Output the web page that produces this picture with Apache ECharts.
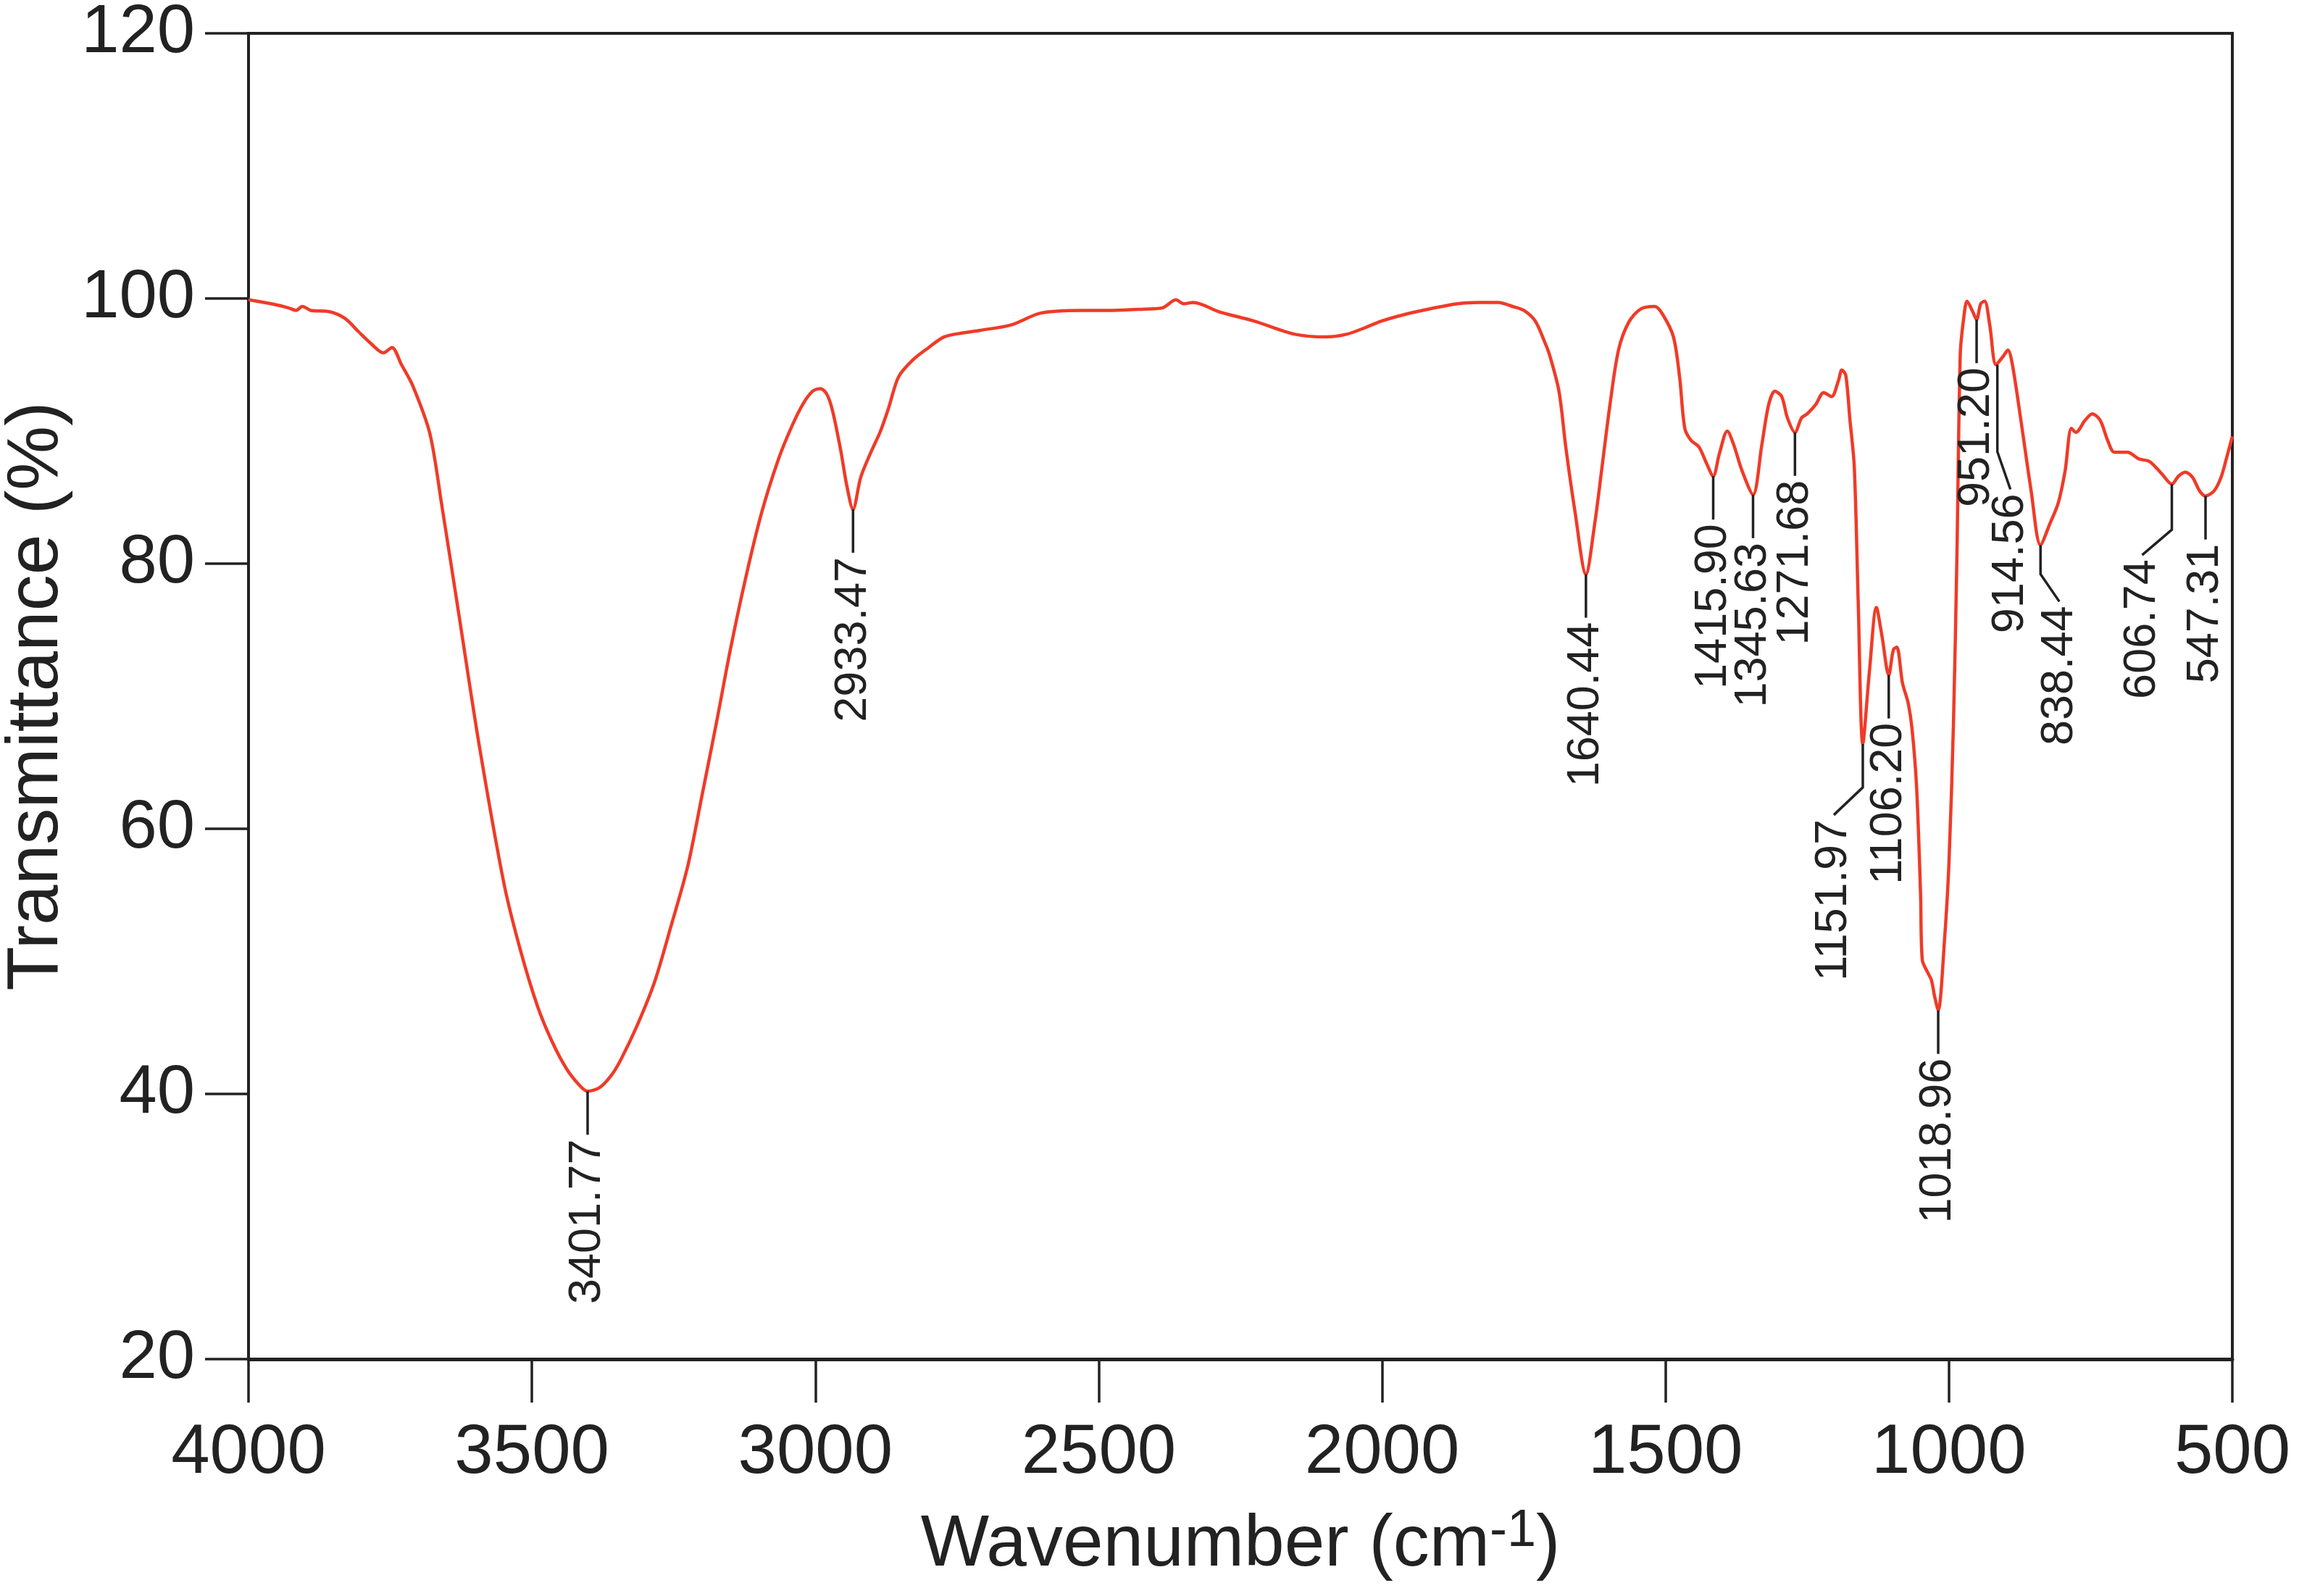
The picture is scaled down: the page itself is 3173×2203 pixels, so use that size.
<!DOCTYPE html>
<html>
<head>
<meta charset="utf-8">
<script src="https://cdn.jsdelivr.net/npm/echarts@6/dist/echarts.min.js"></script>
<style>
  html, body { margin: 0; padding: 0; background: #fff; }
  #main { width: 3173px; height: 2203px; }
</style>
</head>
<body>
<div id="main"></div>
<script>
// FTIR spectrum
var wavenumber = [4000, 3960, 3930, 3916, 3905, 3890, 3857, 3830, 3806, 3784, 3762, 3747, 3730, 3710, 3680,
    3659, 3629, 3593, 3549, 3520, 3490, 3465, 3439, 3415, 3401.77, 3380, 3360, 3343, 3315, 3284, 3255, 3225,
    3200, 3174, 3150, 3123, 3095, 3064, 3040, 3021, 3005, 2991, 2980, 2970, 2955, 2945, 2933.47, 2920, 2903,
    2885, 2871, 2853, 2827, 2800, 2773, 2740, 2709, 2655, 2602, 2530, 2476, 2420, 2387, 2364, 2350, 2333,
    2288, 2226, 2154, 2099, 2063, 2030, 2001, 1960, 1929, 1867, 1830, 1795, 1770, 1750, 1730, 1714, 1705,
    1688, 1676, 1660, 1640.44, 1625, 1612, 1598, 1583, 1565, 1544, 1519, 1505, 1486, 1475, 1466, 1455, 1441,
    1428, 1415.90, 1405, 1391, 1380, 1365, 1345.63, 1330, 1318, 1307, 1295, 1285, 1271.68, 1260, 1250, 1235,
    1221, 1207, 1195, 1189, 1182, 1175, 1167, 1160, 1151.97, 1140, 1128, 1118, 1106.20, 1098, 1092, 1082,
    1072, 1065, 1057, 1050, 1047, 1038, 1031, 1025, 1018.96, 1008, 1000, 992, 986, 980, 974, 968, 958,
    951.20, 944, 937, 928, 917, 905, 896, 888, 873, 855, 838.44, 822, 807, 795, 784, 776, 760, 747, 733,
    720, 708, 685, 665, 646, 625, 606.74, 595, 583, 570, 558, 547.31, 532, 520, 510, 500];
var transmittance = [99.9, 99.6, 99.3, 99.1, 99.4, 99.1, 99.0, 98.5, 97.5, 96.6, 95.9, 96.3, 95.0, 93.4, 89.8,
    84.4, 76.2, 66.3, 55.8, 50.8, 46.6, 44.0, 41.9, 40.6, 40.2, 40.5, 41.4, 42.6, 45.1, 48.4, 52.6, 57.2,
    62.5, 68.1, 73.5, 78.9, 83.8, 88.0, 90.5, 92.1, 93.0, 93.2, 92.8, 91.6, 88.5, 86.0, 84.1, 86.5, 88.3,
    90.0, 91.7, 94.1, 95.4, 96.3, 97.1, 97.4, 97.6, 98.0, 98.9, 99.1, 99.1, 99.2, 99.3, 99.9, 99.6, 99.7,
    99.0, 98.3, 97.3, 97.1, 97.3, 97.8, 98.3, 98.8, 99.1, 99.6, 99.7, 99.7, 99.4, 99.1, 98.3, 96.8, 95.8,
    93.0, 88.8, 84.0, 79.2, 83.0, 87.3, 92.0, 96.1, 98.2, 99.2, 99.4, 98.8, 97.1, 94.0, 90.2, 89.3, 88.8,
    87.6, 86.6, 88.3, 90.0, 89.0, 87.0, 85.2, 89.0, 92.0, 93.0, 92.6, 91.0, 89.9, 91.0, 91.3, 92.0,
    92.9, 92.6, 93.8, 94.6, 94.2, 91.0, 87.3, 77.0, 66.4, 72.0, 76.7, 74.5, 71.6, 73.5, 73.7, 71.0,
    69.5, 67.5, 63.1, 55.0, 50.1, 49.2, 48.6, 47.3, 46.3, 51.5, 57.4, 68.0, 80.4, 95.8, 98.5, 99.8, 99.0,
    98.4, 99.6, 99.8, 98.0, 95.0, 95.6, 96.1, 95.0, 90.8, 85.5, 81.4, 83.0, 84.6, 87.0, 90.2, 89.9, 90.8, 91.3, 90.8,
    89.3, 88.4, 88.4, 87.9, 87.7, 86.8, 86.0, 86.6, 86.9, 86.5, 85.5, 85.1, 85.5, 86.5, 88.0, 89.6];

// labelled peaks
var peakWn = [3401.77, 2933.47, 1640.44, 1415.90, 1345.63, 1271.68, 1151.97, 1106.20, 1018.96, 951.20, 914.56, 838.44, 606.74, 547.31];
var peakT = [40.2, 84.1, 79.2, 86.6, 85.2, 89.9, 66.4, 71.6, 46.3, 98.4, 95.0, 81.4, 86.0, 85.1];
var peakText = ['3401.77', '2933.47', '1640.44', '1415.90', '1345.63', '1271.68', '1151.97', '1106.20', '1018.96', '951.20', '914.56', '838.44', '606.74', '547.31'];

var xTicks = [4000, 3500, 3000, 2500, 2000, 1500, 1000, 500];
var yTicks = [20, 40, 60, 80, 100, 120];

// leader line shapes in px (from the peak downwards)
var leaderShape = {
    '1151.97': [[0, 0], [0, 60], [-40, 98]],
    '914.56': [[0, 0], [0, 120], [18, 172]],
    '838.44': [[0, 0], [0, 40], [26, 78]],
    '606.74': [[0, 0], [0, 63], [-41, 98]]
};
var defaultLeader = [[0, 0], [0, 60]];

var spectrum = wavenumber.map(function (w, i) { return [w, transmittance[i]]; });
var peaks = peakWn.map(function (w, i) { return [w, peakT[i], i]; });

var myChart = echarts.init(document.getElementById('main'));

var axisColor = '#222';
var fontName = 'Liberation Sans, Arial, sans-serif';

var option = {
    backgroundColor: '#fff',
    animation: false,
    grid: {
        left: 343,
        right: 92,
        top: 46,
        bottom: 327,
        outerBoundsMode: 'none',
        containLabel: false,
        show: true,
        borderColor: axisColor,
        borderWidth: 4
    },
    xAxis: {
        type: 'value',
        inverse: true,
        min: 500,
        max: 4000,
        interval: 500,
        name: 'Wavenumber (cm{sup|-1})',
        nameLocation: 'middle',
        nameGap: 202,
        nameTextStyle: {
            color: axisColor,
            fontFamily: fontName,
            fontSize: 100,
            rich: {
                sup: {
                    fontSize: 72,
                    fontFamily: fontName,
                    color: axisColor,
                    padding: [0, 0, 38, 0]
                }
            }
        },
        axisLine: { lineStyle: { color: axisColor, width: 5 } },
        axisTick: { inside: false, length: 60, lineStyle: { color: axisColor, width: 3.5 } },
        axisLabel: {
            margin: 83,
            color: axisColor,
            fontFamily: fontName,
            fontSize: 96,
            formatter: function (v) { return xTicks.indexOf(v) >= 0 ? String(v) : ''; }
        },
        splitLine: { show: false }
    },
    yAxis: {
        type: 'value',
        min: 20,
        max: 120,
        interval: 20,
        name: 'Transmittance (%)',
        nameLocation: 'middle',
        nameGap: 228,
        nameTextStyle: { color: axisColor, fontFamily: fontName, fontSize: 100 },
        axisLine: { lineStyle: { color: axisColor, width: 4 } },
        axisTick: { inside: false, length: 60, lineStyle: { color: axisColor, width: 3.5 } },
        axisLabel: {
            margin: 74,
            color: axisColor,
            fontFamily: fontName,
            fontSize: 94,
            formatter: function (v) { return yTicks.indexOf(v) >= 0 ? String(v) : ''; }
        },
        splitLine: { show: false }
    },
    series: [
        {
            type: 'line',
            data: spectrum,
            showSymbol: false,
            smooth: 0.3,
            lineStyle: { color: '#ef3b28', width: 4.5 },
            z: 3
        },
        {
            type: 'custom',
            data: peaks,
            clip: false,
            z: 4,
            renderItem: function (params, api) {
                var p = api.coord([api.value(0), api.value(1)]);
                var txt = peakText[api.value(2)];
                var shape = leaderShape[txt] || defaultLeader;
                var pts = shape.map(function (d) { return [p[0] + d[0], p[1] + d[1]]; });
                var end = pts[pts.length - 1];
                return {
                    type: 'group',
                    children: [
                        {
                            type: 'polyline',
                            shape: { points: pts },
                            style: { stroke: axisColor, lineWidth: 3.5, fill: null }
                        },
                        {
                            type: 'text',
                            x: end[0],
                            y: end[1] + 6,
                            rotation: Math.PI / 2,
                            style: {
                                text: txt,
                                fill: axisColor,
                                font: '63px ' + fontName,
                                align: 'right',
                                verticalAlign: 'middle'
                            }
                        }
                    ]
                };
            }
        }
    ]
};

myChart.setOption(option);
</script>
</body>
</html>
